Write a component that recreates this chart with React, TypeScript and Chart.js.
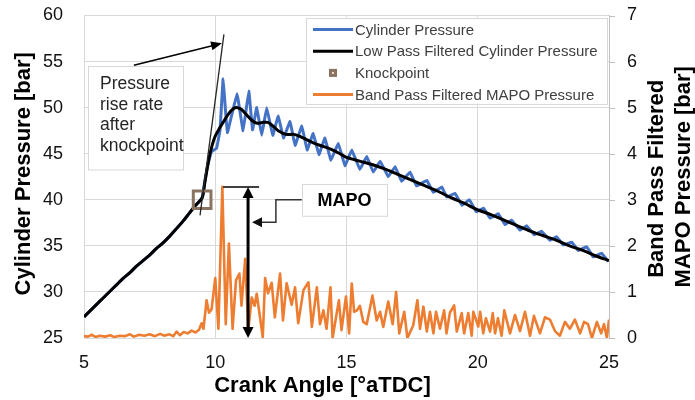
import React, { useEffect, useRef } from "react";
import { Chart, registerables } from "chart.js";

Chart.register(...registerables);

// ---------- axis ticks ----------
const crankAngleTicks = [5, 10, 15, 20, 25];
const pressureTicks = [25, 30, 35, 40, 45, 50, 55, 60];
const mapoTicks = [0, 1, 2, 3, 4, 5, 6, 7];

// ---------- data ----------
// compression part (before knock), shared by raw and low-pass pressure
const compressionAngle = [5.0, 5.25, 5.5, 5.75, 6.0, 6.25, 6.5, 6.75, 7.0, 7.25, 7.5, 7.75, 8.0, 8.25, 8.5, 8.75, 9.0, 9.25, 9.5];
const compressionPressure = [27.3, 28.0, 28.7, 29.4, 30.1, 30.8, 31.5, 32.1, 32.8, 33.4, 34.0, 34.7, 35.3, 36.0, 36.8, 37.6, 38.5, 39.4, 40.2];

// low-pass filtered cylinder pressure after knock
const lowPassAngle = [9.6, 9.7, 9.8, 9.9, 10.0, 10.15, 10.3, 10.5, 10.7, 10.85, 11.0, 11.2, 11.4, 11.6, 11.8, 12.0, 12.2, 12.4, 12.7, 13.0, 13.2, 13.5, 13.8, 14.1, 14.4, 14.75, 15.0, 15.5, 16.0, 16.5, 17.0, 17.5, 18.0, 18.5, 19.0, 19.5, 20.0, 20.5, 21.0, 21.5, 22.0, 22.5, 23.0, 23.5, 24.0, 24.5, 25.0];
const lowPassPressure = [41.8, 43.5, 45.0, 46.1, 46.9, 47.7, 48.4, 49.3, 49.9, 50.0, 49.8, 49.2, 48.6, 48.3, 48.4, 48.4, 48.0, 47.5, 47.1, 47.1, 46.9, 46.5, 46.1, 45.8, 45.5, 45.0, 44.6, 44.2, 43.8, 43.3, 42.7, 42.1, 41.5, 40.9, 40.2, 39.6, 38.9, 38.4, 37.8, 37.2, 36.6, 36.1, 35.6, 35.0, 34.5, 33.9, 33.4];

// raw cylinder pressure after knock
const cylinderAngle = [9.6, 9.7, 9.85, 10.05, 10.18, 10.3, 10.46, 10.83, 11.06, 11.28, 11.42, 11.58, 11.77, 11.96, 12.19, 12.4, 12.6, 12.85, 13.04, 13.3, 13.5, 13.73, 13.95, 14.18, 14.4, 14.69, 14.94, 15.2, 15.51, 15.77, 16.02, 16.28, 16.59, 16.85, 17.1, 17.42, 17.67, 18.06, 18.31, 18.63, 18.82, 19.13, 19.4, 19.68, 19.95, 20.22, 20.47, 20.78, 21.04, 21.29, 21.61, 21.86, 22.15, 22.43, 22.75, 23.0, 23.26, 23.58, 23.83, 24.15, 24.4, 24.72, 24.97];
const cylinderPressure = [42.0, 43.6, 45.2, 45.6, 47.5, 53.1, 47.3, 51.5, 47.5, 51.8, 47.6, 50.0, 47.0, 50.0, 47.0, 49.1, 46.7, 48.5, 45.9, 48.0, 45.4, 47.2, 44.9, 46.7, 44.3, 46.1, 43.7, 45.4, 43.3, 44.7, 43.0, 44.2, 42.5, 43.6, 42.0, 43.0, 41.5, 42.1, 40.8, 41.4, 40.3, 40.7, 39.4, 40.0, 38.7, 39.1, 38.0, 38.5, 37.3, 37.8, 36.7, 37.2, 36.2, 36.6, 35.6, 36.0, 35.1, 35.4, 34.5, 34.9, 33.8, 34.2, 33.3];

// band pass filtered MAPO pressure (right axis)
const mapoAngle = [5.0, 5.15, 5.3, 5.45, 5.6, 5.8, 6.0, 6.15, 6.35, 6.55, 6.75, 6.9, 7.1, 7.3, 7.5, 7.7, 7.9, 8.05, 8.25, 8.4, 8.53, 8.65, 8.8, 8.95, 9.1, 9.25, 9.38, 9.48, 9.55, 9.67, 9.76, 9.86, 10.0, 10.12, 10.27, 10.4, 10.52, 10.66, 10.79, 10.92, 11.0, 11.14, 11.26, 11.39, 11.5, 11.58, 11.81, 11.9, 12.01, 12.15, 12.27, 12.47, 12.58, 12.72, 12.91, 13.04, 13.16, 13.36, 13.55, 13.68, 13.87, 13.99, 14.12, 14.24, 14.39, 14.47, 14.71, 14.81, 14.98, 15.1, 15.2, 15.29, 15.4, 15.51, 15.64, 15.77, 15.99, 16.15, 16.28, 16.4, 16.59, 16.76, 16.89, 17.01, 17.2, 17.32, 17.54, 17.7, 17.8, 17.93, 18.06, 18.18, 18.31, 18.41, 18.56, 18.72, 18.81, 18.94, 19.1, 19.2, 19.39, 19.48, 19.64, 19.77, 19.83, 20.02, 20.09, 20.21, 20.31, 20.47, 20.57, 20.66, 20.77, 20.91, 21.01, 21.23, 21.42, 21.61, 21.8, 21.99, 22.14, 22.37, 22.56, 22.75, 22.94, 23.13, 23.32, 23.51, 23.7, 23.9, 24.05, 24.2, 24.35, 24.54, 24.7, 24.81, 24.92, 25.0];
const mapoPressure = [0.04, 0.03, 0.07, 0.02, 0.05, 0.03, 0.06, 0.02, 0.05, 0.04, 0.08, 0.03, 0.07, 0.05, 0.08, 0.04, 0.09, 0.05, 0.08, 0.04, 0.14, 0.06, 0.13, 0.1, 0.16, 0.12, 0.18, 0.32, 0.2, 0.82, 0.55, 0.62, 1.3, 0.2, 3.28, 0.3, 2.05, 0.2, 1.25, 1.4, 0.7, 1.72, 0.17, 0.88, 0.7, 0.96, 0.02, 1.3, 0.97, 1.2, 0.45, 1.4, 0.38, 1.19, 0.72, 1.1, 0.32, 1.04, 1.21, 0.24, 1.1, 0.3, 0.6, 0.2, 1.1, 0.0, 0.82, 0.17, 0.9, 0.1, 1.18, 0.57, 0.6, 0.7, 0.35, 0.3, 0.92, 0.38, 0.57, 0.24, 0.79, 0.3, 1.0, 0.1, 0.57, 0.0, 0.27, 0.82, 0.2, 0.68, 0.14, 0.57, 0.1, 0.57, 0.2, 0.6, 0.1, 0.55, 0.71, 0.14, 0.54, 0.1, 0.54, 0.05, 0.57, 0.25, 0.57, 0.1, 0.43, 0.14, 0.54, 0.1, 0.43, 0.05, 0.6, 0.1, 0.5, 0.15, 0.57, 0.05, 0.48, 0.1, 0.45, 0.4, 0.15, 0.05, 0.35, 0.2, 0.4, 0.1, 0.35, 0.3, 0.0, 0.35, 0.1, 0.3, 0.0, 0.4];

// knock point
const knockAngle = [9.5];
const knockPressure = [40];

// annotations (data units)
const mapoPeakValue = 3.28;
const mapoPeakLine = [10.3, 11.67];
const mapoArrowAngle = 11.25;
const tangentStart = [9.42, 38.3];
const tangentEnd = [10.33, 57.95];
const riseArrowStart = [6.9, 54.6];
const riseArrowEnd = [10.257, 56.98];
const riseBox = [5.152, 54.49, 8.771, 43.26];
const riseText = ["Pressure", "rise rate", "after", "knockpoint"];
const mapoBox = [13.3, 3.35, 16.54, 2.66];
const mapoBracket = [[13.3, 3.0], [12.31, 3.0], [12.31, 2.51], [11.4, 2.51]];

const legendLabels = [
  "Cylinder Pressure",
  "Low Pass Filtered Cylinder Pressure",
  "Knockpoint",
  "Band Pass Filtered MAPO Pressure",
];

const BLUE = "#4472C4";
const ORANGE = "#ED7D31";
const BROWN = "#8a7360";
const GRID = "#d9d9d9";
const AXIS = "#bfbfbf";
const FONT = "'Liberation Sans', Arial, sans-serif";

function toPoints(xs: number[], ys: number[]) {
  return xs.map((x, i) => ({ x, y: ys[i] }));
}

function arrowHead(ctx: CanvasRenderingContext2D, x1: number, y1: number, x2: number, y2: number, len: number, half: number) {
  const a = Math.atan2(y2 - y1, x2 - x1);
  const bx = x2 - len * Math.cos(a);
  const by = y2 - len * Math.sin(a);
  ctx.beginPath();
  ctx.moveTo(x2, y2);
  ctx.lineTo(bx + half * Math.sin(a), by - half * Math.cos(a));
  ctx.lineTo(bx - half * Math.sin(a), by + half * Math.cos(a));
  ctx.closePath();
  ctx.fill();
}

const decorPlugin = {
  id: "decor",
  afterDatasetsDraw(chart: any) {
    const { ctx, scales, chartArea } = chart;
    const X = (v: number) => scales.x.getPixelForValue(v);
    const YL = (v: number) => scales.y.getPixelForValue(v);
    const YR = (v: number) => scales.y2.getPixelForValue(v);
    ctx.save();

    // right axis tick marks
    ctx.strokeStyle = AXIS;
    ctx.lineWidth = 1;
    mapoTicks.forEach((t) => {
      const ty = Math.round(YR(t)) + 0.5;
      ctx.beginPath();
      ctx.moveTo(chartArea.right, ty);
      ctx.lineTo(chartArea.right + 6, ty);
      ctx.stroke();
    });

    // tangent line (pressure rise rate)
    ctx.strokeStyle = "#262626";
    ctx.lineWidth = 1.3;
    ctx.beginPath();
    ctx.moveTo(X(tangentStart[0]), YL(tangentStart[1]));
    ctx.lineTo(X(tangentEnd[0]), YL(tangentEnd[1]));
    ctx.stroke();

    // rise-rate text box
    const bx1 = X(riseBox[0]), by1 = YL(riseBox[1]), bx2 = X(riseBox[2]), by2 = YL(riseBox[3]);
    ctx.fillStyle = "#fff";
    ctx.fillRect(bx1, by1, bx2 - bx1, by2 - by1);
    ctx.strokeStyle = GRID;
    ctx.lineWidth = 1;
    ctx.strokeRect(Math.round(bx1) + 0.5, Math.round(by1) + 0.5, bx2 - bx1, by2 - by1);
    ctx.fillStyle = "#262626";
    ctx.font = `17.5px ${FONT}`;
    ctx.textAlign = "left";
    ctx.textBaseline = "middle";
    riseText.forEach((t, i) => ctx.fillText(t, bx1 + 12, by1 + 18 + i * 20.7));

    // rise-rate arrow
    const ax1 = X(riseArrowStart[0]), ay1 = YL(riseArrowStart[1]);
    const ax2 = X(riseArrowEnd[0]), ay2 = YL(riseArrowEnd[1]);
    const ang = Math.atan2(ay2 - ay1, ax2 - ax1);
    ctx.strokeStyle = "#000";
    ctx.fillStyle = "#000";
    ctx.lineWidth = 1.5;
    ctx.beginPath();
    ctx.moveTo(ax1, ay1);
    ctx.lineTo(ax2 - 8 * Math.cos(ang), ay2 - 8 * Math.sin(ang));
    ctx.stroke();
    arrowHead(ctx, ax1, ay1, ax2, ay2, 11, 4.5);

    // MAPO peak line
    const py = YR(mapoPeakValue);
    ctx.lineWidth = 1.5;
    ctx.beginPath();
    ctx.moveTo(X(mapoPeakLine[0]), py);
    ctx.lineTo(X(mapoPeakLine[1]), py);
    ctx.stroke();

    // MAPO double arrow
    const mx = X(mapoArrowAngle);
    const my0 = YR(0);
    ctx.lineWidth = 3;
    ctx.beginPath();
    ctx.moveTo(mx, py + 9);
    ctx.lineTo(mx, my0 - 9);
    ctx.stroke();
    arrowHead(ctx, mx, my0, mx, py, 11, 5.5);
    arrowHead(ctx, mx, py, mx, my0, 11, 5.5);

    // bracket to MAPO label
    ctx.strokeStyle = "#333";
    ctx.fillStyle = "#111";
    ctx.lineWidth = 1.5;
    ctx.beginPath();
    mapoBracket.forEach((p, i) => {
      const px = X(p[0]);
      const pyy = YR(p[1]);
      if (i === 0) ctx.moveTo(px, pyy);
      else if (i === mapoBracket.length - 1) ctx.lineTo(px + 8, pyy);
      else ctx.lineTo(px, pyy);
    });
    ctx.stroke();
    const last = mapoBracket[mapoBracket.length - 1];
    const prev = mapoBracket[mapoBracket.length - 2];
    arrowHead(ctx, X(prev[0]), YR(prev[1]), X(last[0]), YR(last[1]), 10, 5);

    // MAPO label box
    const mx1 = X(mapoBox[0]), my1 = YR(mapoBox[1]), mx2 = X(mapoBox[2]), my2 = YR(mapoBox[3]);
    ctx.fillStyle = "#fff";
    ctx.fillRect(mx1, my1, mx2 - mx1, my2 - my1);
    ctx.strokeStyle = GRID;
    ctx.lineWidth = 1;
    ctx.strokeRect(Math.round(mx1) + 0.5, Math.round(my1) + 0.5, mx2 - mx1, my2 - my1);
    ctx.fillStyle = "#000";
    ctx.font = `bold 18px ${FONT}`;
    ctx.textAlign = "center";
    ctx.textBaseline = "middle";
    ctx.fillText("MAPO", (mx1 + mx2) / 2, (my1 + my2) / 2 + 1);

    ctx.restore();
  },
  afterDraw(chart: any) {
    const { ctx, chartArea } = chart;
    ctx.save();
    // legend
    const lx = chartArea.right - 303;
    const ly = chartArea.top + 2;
    ctx.fillStyle = "#fff";
    ctx.fillRect(lx, ly, 301, 86);
    ctx.strokeStyle = GRID;
    ctx.lineWidth = 1;
    ctx.strokeRect(Math.round(lx) + 0.5, Math.round(ly) + 0.5, 301, 86);
    const colors = [BLUE, "#000", null, ORANGE];
    legendLabels.forEach((label, i) => {
      const cy = ly + 12 + i * 21.7;
      const c = colors[i];
      if (c) {
        ctx.strokeStyle = c;
        ctx.lineWidth = 3;
        ctx.beginPath();
        ctx.moveTo(lx + 7, cy);
        ctx.lineTo(lx + 47, cy);
        ctx.stroke();
      } else {
        ctx.fillStyle = BROWN;
        ctx.fillRect(lx + 23, cy - 4, 8, 8);
        ctx.fillStyle = "#e8e0d8";
        ctx.fillRect(lx + 26, cy - 1, 2, 2);
      }
      ctx.fillStyle = "#404040";
      ctx.font = `15px ${FONT}`;
      ctx.textAlign = "left";
      ctx.textBaseline = "middle";
      ctx.fillText(label, lx + 49, cy + 1);
    });

    // axis titles
    ctx.fillStyle = "#000";
    ctx.font = `bold 22px ${FONT}`;
    ctx.textAlign = "center";
    ctx.textBaseline = "middle";
    const midY = (chartArea.top + chartArea.bottom) / 2;
    ctx.fillText("Crank Angle [°aTDC]", (chartArea.left + chartArea.right) / 2 - 24, 386);
    ctx.save();
    ctx.translate(24, midY - 3);
    ctx.rotate(-Math.PI / 2);
    ctx.fillText("Cylinder Pressure [bar]", 0, 0);
    ctx.restore();
    ctx.save();
    ctx.translate(657, midY + 2);
    ctx.rotate(-Math.PI / 2);
    ctx.fillText("Band Pass Filtered", 0, 0);
    ctx.restore();
    ctx.save();
    ctx.translate(684, midY);
    ctx.rotate(-Math.PI / 2);
    ctx.fillText("MAPO Pressure [bar]", 0, 0);
    ctx.restore();
    ctx.restore();
  },
};

export default function App() {
  const canvasRef = useRef<HTMLCanvasElement | null>(null);

  useEffect(() => {
    if (!canvasRef.current) return;
    const chart = new Chart(canvasRef.current, {
      type: "line",
      data: {
        datasets: [
          {
            label: legendLabels[2],
            type: "scatter",
            data: toPoints(knockAngle, knockPressure),
            yAxisID: "y",
            pointStyle: "rect",
            pointRadius: 12.5,
            pointBorderWidth: 3,
            pointBorderColor: BROWN,
            pointBackgroundColor: "rgba(0,0,0,0)",
            showLine: false,
            order: 0,
          } as any,
          {
            label: legendLabels[1],
            data: toPoints(compressionAngle.concat(lowPassAngle), compressionPressure.concat(lowPassPressure)),
            yAxisID: "y",
            borderColor: "#000",
            borderWidth: 3,
            pointRadius: 0,
            tension: 0.3,
            borderJoinStyle: "round",
            order: 1,
          },
          {
            label: legendLabels[0],
            data: toPoints(compressionAngle.concat(cylinderAngle), compressionPressure.concat(cylinderPressure)),
            yAxisID: "y",
            borderColor: BLUE,
            borderWidth: 3,
            pointRadius: 0,
            tension: 0.05,
            borderJoinStyle: "round",
            order: 2,
          },
          {
            label: legendLabels[3],
            data: toPoints(mapoAngle, mapoPressure),
            yAxisID: "y2",
            borderColor: ORANGE,
            borderWidth: 2.6,
            pointRadius: 0,
            tension: 0,
            borderJoinStyle: "round",
            order: 3,
          },
        ],
      },
      options: {
        responsive: false,
        animation: false,
        events: [],
        layout: { padding: { top: 14, left: 0, right: 0, bottom: 0 } },
        plugins: { legend: { display: false }, tooltip: { enabled: false } },
        scales: {
          x: {
            type: "linear",
            min: crankAngleTicks[0],
            max: crankAngleTicks[crankAngleTicks.length - 1],
            afterBuildTicks: (s: any) => { s.ticks = crankAngleTicks.map((v) => ({ value: v })); },
            afterFit: (s: any) => { s.height = 62; },
            grid: { color: GRID, drawTicks: false, lineWidth: 1 },
            border: { display: false },
            ticks: { font: { family: FONT, size: 18 }, color: "#111", padding: 14, maxRotation: 0 },
          },
          y: {
            type: "linear",
            position: "left",
            min: pressureTicks[0],
            max: pressureTicks[pressureTicks.length - 1],
            afterBuildTicks: (s: any) => { s.ticks = pressureTicks.map((v) => ({ value: v })); },
            afterFit: (s: any) => { s.width = 84; },
            grid: { color: GRID, drawTicks: true, tickLength: 21, tickColor: "rgba(0,0,0,0)", lineWidth: 1 },
            border: { display: false },
            ticks: { font: { family: FONT, size: 18 }, color: "#111", padding: 0 },
          },
          y2: {
            type: "linear",
            position: "right",
            min: mapoTicks[0],
            max: mapoTicks[mapoTicks.length - 1],
            afterBuildTicks: (s: any) => { s.ticks = mapoTicks.map((v) => ({ value: v })); },
            afterFit: (s: any) => { s.width = 86; },
            grid: { drawOnChartArea: false, drawTicks: true, tickLength: 18, tickColor: "rgba(0,0,0,0)" },
            border: { display: true, color: AXIS },
            ticks: { font: { family: FONT, size: 18 }, color: "#111", padding: 0 },
          },
        },
      },
      plugins: [decorPlugin],
    } as any);
    return () => chart.destroy();
  }, []);

  return (
    <div style={{ position: "absolute", left: 0, top: 0, width: 695, height: 400, background: "#fff" }}>
      <canvas ref={canvasRef} width={695} height={400} />
    </div>
  );
}
